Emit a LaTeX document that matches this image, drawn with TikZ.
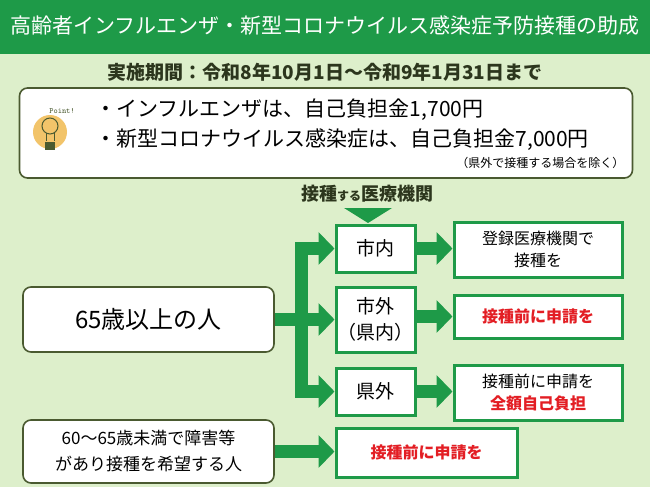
\documentclass[tikz,border=0pt]{standalone}
\usepackage{fontspec}
\setmainfont{Noto Sans CJK JP}
\usetikzlibrary{arrows.meta,positioning}
\definecolor{hgreen}{HTML}{1E9A48}
\definecolor{bggreen}{HTML}{DDEFCB}
\definecolor{olive}{HTML}{4A5A30}
\definecolor{hred}{HTML}{E31E24}
\definecolor{bulb}{HTML}{F2C46A}
\tikzset{
  gbox/.style={draw=hgreen,line width=3pt,fill=white,align=center,inner sep=0pt},
  pbox/.style={draw=olive,line width=1.6pt,fill=white,rounded corners=8pt,align=center,inner sep=0pt},
  fat/.style={draw=hgreen,line width=13pt},
  fatarrow/.style={fat,-{Triangle[width=32pt,length=16pt]}},
}
\begin{document}
\begin{tikzpicture}[x=1pt,y=-1pt]
  \useasboundingbox (0,0) rectangle (650,487);
  \fill[bggreen] (0,0) rectangle (650,487);
  \fill[hgreen] (0,0) rectangle (650,54);
  \node[text=white,font=\fontsize{21}{24}\selectfont] (title) at (325,26) {高齢者インフルエンザ・新型コロナウイルス感染症予防接種の助成};
  \node[text=olive!60!black,font=\fontsize{19}{22}\selectfont\bfseries] (period) at (325,72) {実施期間：令和8年10月1日～令和9年1月31日まで};

  % point box
  \node[pbox,minimum width=613pt,minimum height=90pt] (point) at (326,133) {};
  \fill[bulb] (50,132) circle (17);
  \draw[olive,line width=1pt] (50,126) circle (8);
  \draw[olive,line width=1pt] (46,133) -- (46,141) (54,133) -- (54,141);
  \fill[olive] (45,142) rectangle (55,150);
  \node[font=\fontsize{8}{9}\selectfont\ttfamily,text=olive] (pt) at (62,111) {Point!};
  \node[anchor=west,font=\fontsize{21}{24}\selectfont] (b1) at (92,110) {・インフルエンザは、自己負担金1,700円};
  \node[anchor=west,font=\fontsize{21}{24}\selectfont] (b2) at (92,140) {・新型コロナウイルス感染症は、自己負担金7,000円};
  \node[anchor=east,font=\fontsize{12}{14}\selectfont] (note) at (628,163) {（県外で接種する場合を除く）};

  \node[text=olive!60!black,font=\fontsize{18}{21}\selectfont\bfseries] (inst) at (367,194) {接種{\fontsize{12}{14}\selectfont する}医療機関};
  \fill[hgreen] (344,208) -- (392,208) -- (368,223) -- cycle;

  % boxes
  \node[gbox,minimum width=79pt,minimum height=47pt,font=\fontsize{19}{22}\selectfont] (nai) at (375.5,248.5) {市内};
  \node[gbox,minimum width=79pt,minimum height=65pt,font=\fontsize{19}{26}\selectfont] (gai) at (375.5,319.5) {市外\\（県内）};
  \node[gbox,minimum width=79pt,minimum height=47pt,font=\fontsize{19}{22}\selectfont] (ken) at (375.5,391.5) {県外};
  \node[gbox,minimum width=168pt,minimum height=55pt,font=\fontsize{16}{22}\selectfont] (r1) at (538,249.5) {登録医療機関で\\接種を};
  \node[gbox,minimum width=168pt,minimum height=43pt,font=\fontsize{16}{20}\selectfont\bfseries,text=hred] (r2) at (538,316.5) {接種前に申請を};
  \node[gbox,minimum width=168pt,minimum height=55pt,font=\fontsize{16}{22}\selectfont] (r3) at (538,392.5) {接種前に申請を\\{\bfseries\color{hred}全額自己負担}};
  \node[pbox,minimum width=251pt,minimum height=65pt,font=\fontsize{24}{26}\selectfont] (p65) at (148.5,319.5) {65歳以上の人};
  \node[pbox,minimum width=251pt,minimum height=63pt,font=\fontsize{17}{26}\selectfont] (p60) at (148.5,451.5) {60～65歳未満で障害等\\があり接種を希望する人};
  \node[gbox,minimum width=181pt,minimum height=49pt,font=\fontsize{16}{20}\selectfont\bfseries,text=hred] (r4) at (426.5,452.5) {接種前に申請を};

  % connectors
  \coordinate (tmid) at (301,319.5);
  \coordinate (ttop) at (301,248.5);
  \coordinate (tbot) at (301,391.5);
  \draw[fat] (p65.east) -- (tmid);
  \draw[fat] ([yshift=6.5pt]ttop) -- ([yshift=-6.5pt]tbot);
  \draw[fatarrow] (ttop) -- (nai.west);
  \draw[fatarrow] (tmid) -- (gai.west);
  \draw[fatarrow] (tbot) -- (ken.west);
  \draw[fatarrow] (nai.east) -- (nai.east -| r1.west);
  \draw[fatarrow] (gai.east |- r2.west) -- (r2.west);
  \draw[fatarrow] (ken.east) -- (ken.east -| r3.west);
  \draw[fatarrow] (p60.east) -- (p60.east -| r4.west);
\end{tikzpicture}
\end{document}
